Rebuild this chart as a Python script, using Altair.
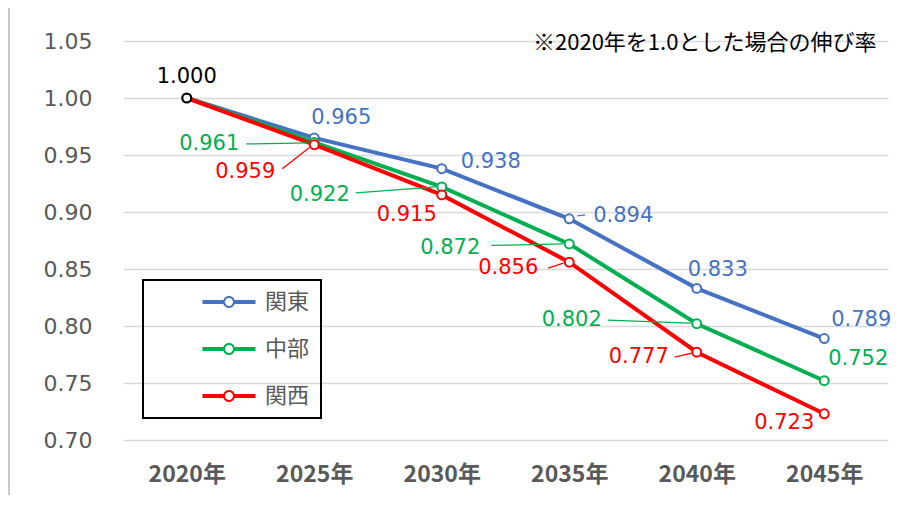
import altair as alt
import pandas as pd

# ---- data ----
years = [2020, 2025, 2030, 2035, 2040, 2045]
series_names = ["関東", "中部", "関西"]
kanto = [1.000, 0.965, 0.938, 0.894, 0.833, 0.789]
chubu = [1.000, 0.961, 0.922, 0.872, 0.802, 0.752]
kansai = [1.000, 0.959, 0.915, 0.856, 0.777, 0.723]
colors = ["#4472C4", "#00B050", "#FF0000"]
note = "※2020年を1.0とした場合の伸び率"

# label offsets (pixels, right / down) for 2025..2045
label_off = {
    "関東": [(27, -20), (49, -7), (54, -3), (21, -18), (37, -19)],
    "中部": [(-105, 1.5), (-122, 8), (-119, 4), (-125, -4), (34, -22)],
    "関西": [(-69, 27), (-35, 20), (-61, 6), (-58, 5), (-40, 9)],
}
# leader lines: (series, year, start dx, start dy, end dx, end dy) in pixels
leaders = [
    ("関東", 2035, 16, -4, 8, -3),
    ("中部", 2025, -68, 1.5, -6, 0.5),
    ("中部", 2030, -86, 6, -6, 0),
    ("中部", 2035, -78, 1.5, -6, 0),
    ("中部", 2040, -89, -3.5, -6, -0.5),
    ("関西", 2025, -32, 24, -5, 3),
    ("関西", 2035, -21, 6, -6, 1),
    ("関西", 2040, -22, 5, -5, 1),
]

W, H = 765, 399
X0, X1 = 2017.5, 2047.5
Y0, Y1 = 0.70, 1.05
XPX = W / (X1 - X0)
YPX = H / (Y1 - Y0)

vals = {"関東": kanto, "中部": chubu, "関西": kansai}
rows = []
for s in series_names:
    for yr, v in zip(years, vals[s]):
        rows.append({"year": yr, "value": v, "series": s})
df = pd.DataFrame(rows)

lab_rows = []
for s in series_names:
    for i, yr in enumerate(years[1:]):
        v = vals[s][i + 1]
        dx, dy = label_off[s][i]
        lab_rows.append({"lx": yr + dx / XPX, "ly": v - dy / YPX,
                         "text": f"{v:.3f}", "series": s})
labels = pd.DataFrame(lab_rows)

ld_rows = []
for s, yr, sx, sy, ex, ey in leaders:
    v = vals[s][years.index(yr)]
    ld_rows.append({"x": yr + sx / XPX, "y": v - sy / YPX,
                    "x2": yr + ex / XPX, "y2": v - ey / YPX, "series": s})
lead = pd.DataFrame(ld_rows)

start = pd.DataFrame({"year": [years[0]], "value": [kanto[0]],
                      "text": [f"{kanto[0]:.3f}"]})
start["ly"] = start["value"] + 21 / YPX

xs = alt.Scale(domain=[X0, X1], nice=False, zero=False)
ys = alt.Scale(domain=[Y0, Y1], nice=False, zero=False)
cs = alt.Scale(domain=series_names, range=colors)

num_font = "DejaVu Sans"
jp_font = "Noto Sans CJK JP"

# line segments as thin bars plus a hollow ring (filled, no stroke)
legend_path = (
    "M-5.3,-0.4L-1.1,-0.4L-1.1,0.4L-5.3,0.4Z"
    "M1.1,-0.4L5.3,-0.4L5.3,0.4L1.1,0.4Z"
    "M1.2,0A1.2,1.2,0,1,1,-1.2,0A1.2,1.2,0,1,1,1.2,0Z"
    "M0.8,0A0.8,0.8,0,1,0,-0.8,0A0.8,0.8,0,1,0,0.8,0Z"
)

x_enc = alt.X("year:Q", scale=xs, title=None,
              axis=alt.Axis(values=years, labelExpr="datum.value + '年'",
                            grid=False, domain=False, ticks=False,
                            labelFont=jp_font, labelFontSize=23,
                            labelFontWeight="bold", labelColor="#595959",
                            labelPadding=23))
y_enc = alt.Y("value:Q", scale=ys, title=None,
              axis=alt.Axis(values=[0.70, 0.75, 0.80, 0.85, 0.90, 0.95, 1.00, 1.05],
                            format=".2f", domain=False, ticks=False,
                            gridColor="#d9d9d9", gridWidth=1.3,
                            labelFont=num_font, labelFontSize=22,
                            labelColor="#595959", labelPadding=31))

lines = alt.Chart(df).mark_line(strokeWidth=4).encode(
    x=x_enc, y=y_enc,
    color=alt.Color("series:N", scale=cs, sort=series_names,
                    legend=alt.Legend(
                        orient="none", legendX=20, legendY=239, title=None,
                        padding=11, symbolOffset=64, labelOffset=25,
                        rowPadding=25, labelFontSize=22, labelFont=jp_font,
                        labelColor="#595959", strokeColor="black",
                        symbolSize=100, symbolType=legend_path,
                        symbolStrokeWidth=0,
                        labelExpr="datum.label + '\u2003\u2002'")),
    order=alt.Order("year:Q"),
)

points = alt.Chart(df[df["year"] > years[0]]).mark_point(
    filled=False, fill="white", size=80, strokeWidth=2, opacity=1
).encode(
    x="year:Q", y="value:Q",
    color=alt.Color("series:N", scale=cs, legend=None),
)

start_pt = alt.Chart(start).mark_point(
    filled=False, fill="white", size=80, strokeWidth=2.2, color="black", opacity=1
).encode(x="year:Q", y="value:Q")

start_lab = alt.Chart(start).mark_text(
    font=num_font, fontSize=21, color="black", align="center", baseline="middle"
).encode(x="year:Q", y="ly:Q", text="text:N")

lead_rules = alt.Chart(lead).mark_rule(strokeWidth=1.3).encode(
    x="x:Q", y="y:Q", x2="x2:Q", y2="y2:Q",
    color=alt.Color("series:N", scale=cs, legend=None),
)

lab_text = alt.Chart(labels).mark_text(
    font=num_font, fontSize=21, align="center", baseline="middle"
).encode(
    x="lx:Q", y="ly:Q", text="text:N",
    color=alt.Color("series:N", scale=cs, legend=None),
)

note_text = alt.Chart(pd.DataFrame({"t": [note]})).mark_text(
    font=jp_font, fontSize=22, color="black", align="left", baseline="middle"
).encode(x=alt.value(410), y=alt.value(2), text="t:N")

frame = alt.Chart(pd.DataFrame({"a": [0]})).mark_rule(
    color="#c8c8c8", strokeWidth=2
).encode(x=alt.value(-114), y=alt.value(-33), y2=alt.value(H + 55))

chart = alt.layer(
    frame, lines, lead_rules, points, start_pt, start_lab, lab_text, note_text
).properties(
    width=W, height=H, autosize="none",
    padding={"left": 115, "top": 33, "right": 10, "bottom": 55},
).configure_view(stroke=None).configure_legend(strokeWidth=2)

chart.save("out.html", embed_options={"renderer": "svg", "actions": False})
